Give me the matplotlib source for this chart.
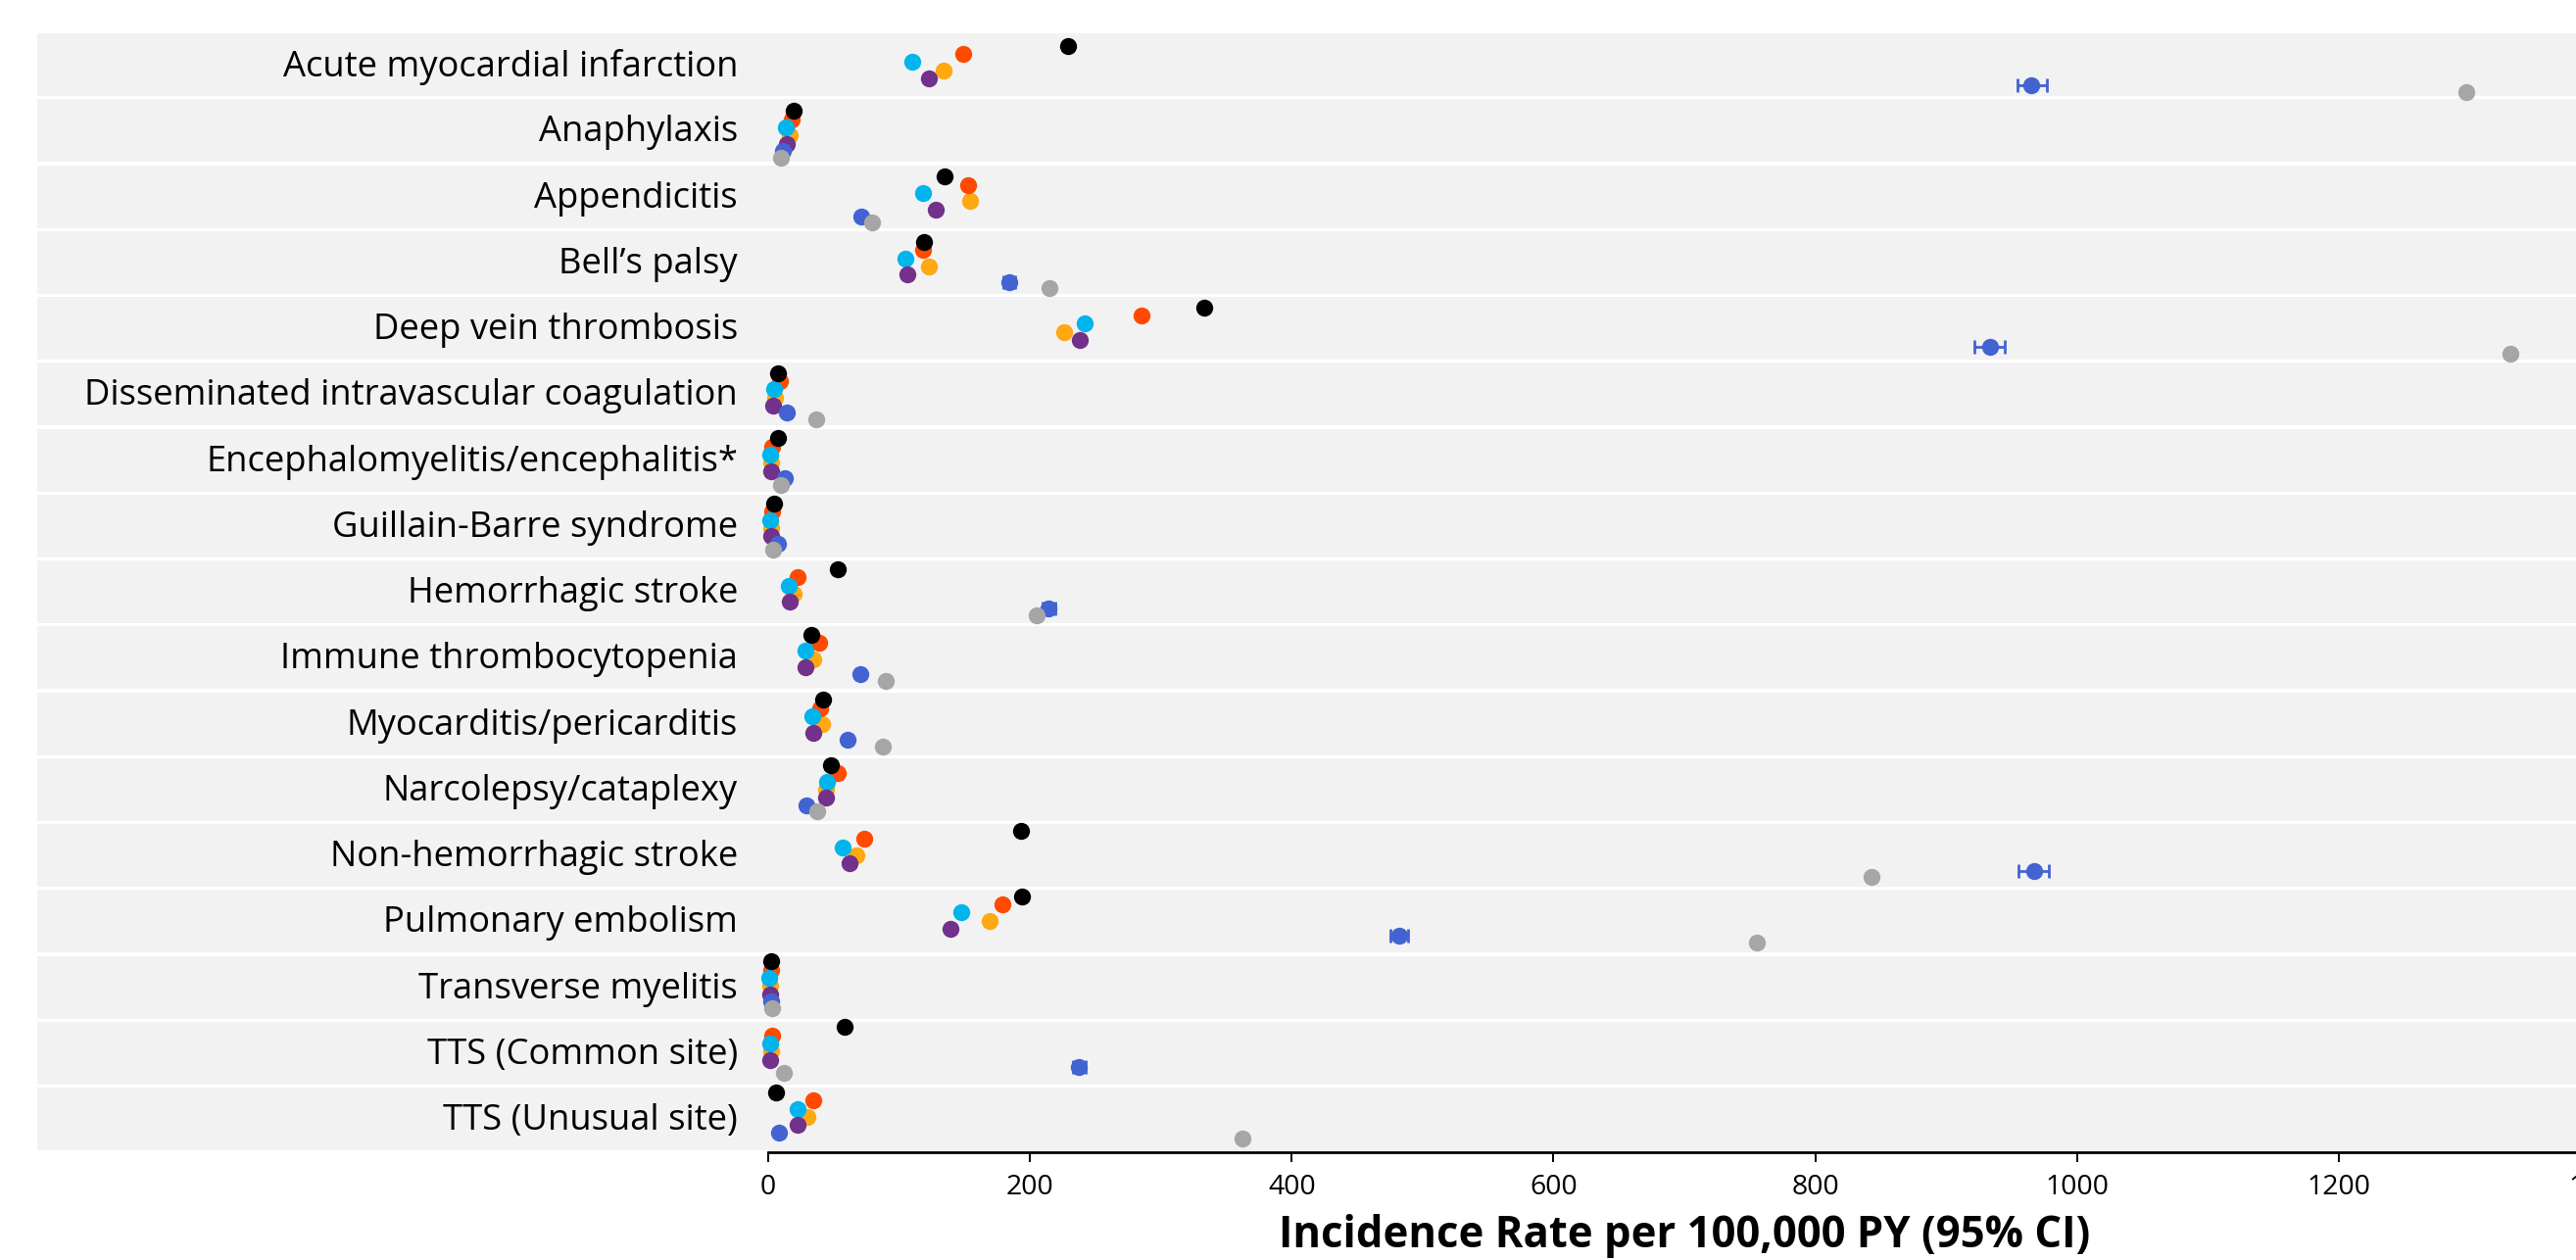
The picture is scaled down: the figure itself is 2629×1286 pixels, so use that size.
import matplotlib
matplotlib.use('Agg')
import matplotlib.pyplot as plt
import numpy as np

plt.rcParams['font.family'] = ['Open Sans', 'DejaVu Sans']

# Categories, top to bottom
categories = [
    'Acute myocardial infarction', 'Anaphylaxis', 'Appendicitis', 'Bell\u2019s palsy',
    'Deep vein thrombosis', 'Disseminated intravascular coagulation',
    'Encephalomyelitis/encephalitis*', 'Guillain-Barre syndrome', 'Hemorrhagic stroke',
    'Immune thrombocytopenia', 'Myocarditis/pericarditis', 'Narcolepsy/cataplexy',
    'Non-hemorrhagic stroke', 'Pulmonary embolism', 'Transverse myelitis',
    'TTS (Common site)', 'TTS (Unusual site)',
]

# Incidence rate per 100,000 PY, one list per data source
rate_black = [229, 19.7, 135, 119.3, 333.2, 7.5, 7.2, 4.2, 53.1, 33.2, 41.9, 47.9, 193, 194, 2.5, 58.1, 6]
rate_red = [149, 18.2, 152.4, 118, 285.4, 9, 3.3, 2.7, 22.5, 38.9, 39.7, 53.4, 73.4, 179.1, 2, 3.2, 34.7]
rate_cyan = [110, 13.7, 118.5, 105, 241.9, 4.5, 1.7, 1.7, 15.5, 28.7, 34, 45.1, 56.9, 147.7, 0.8, 1.5, 22.2]
rate_orange = [133.8, 16.5, 154.5, 123, 226.4, 5.2, 2.5, 2.5, 19.2, 34.4, 41.2, 44.5, 67.1, 169.2, 1.2, 2.5, 29.7]
rate_purple = [122.5, 14.5, 127.8, 106.3, 238.2, 4, 2, 2, 16.2, 28.4, 34.2, 43.9, 62.4, 139.5, 1.2, 1.7, 22.5]
rate_blue = [965, 11.5, 71.1, 184.2, 933.3, 14, 12.5, 7.7, 214.3, 70.1, 60.9, 29, 967, 481.9, 2, 237.4, 8.2]
rate_gray = [1297.5, 10, 79.4, 215.2, 1331, 36.5, 9.5, 4, 204.8, 89.8, 87.6, 37.2, 842.8, 755, 3, 12, 362]

# 95% CI for the blue source (only visible for the large ones)
blue_lo = [954.5, 11.5, 71.1, 179.5, 921.7, 14, 12.5, 7.7, 209.5, 70.1, 60.9, 29, 955.5, 475, 2, 232.5, 8.2]
blue_hi = [977, 11.5, 71.1, 189, 944.6, 14, 12.5, 7.7, 219, 70.1, 60.9, 29, 978.5, 489, 2, 242.5, 8.2]

xticks = [0, 200, 400, 600, 800, 1000, 1200, 1400]

# series: values, colour, vertical dodge in px (relative to centre), draw order
series = [
    (rate_orange, '#FFA812', 0.0, 3),
    (rate_red, '#FF4A00', -16.7, 4),
    (rate_cyan, '#00B4EC', -8.3, 5),
    (rate_purple, '#72318A', 8.3, 6),
    (rate_blue, '#4363D2', 15.6, 7),
    (rate_gray, '#A6A6A6', 22.2, 8),
    (rate_black, '#000000', -25.0, 9),
]

W, H = 2629, 1286
fig = plt.figure(figsize=(W / 100, H / 100), dpi=100)

# geometry in pixels
px0 = 784.0          # x pixel of value 0
px_per = 1.3358      # pixels per unit
left_px = 37.8
top_px = 32.5
band_step = 67.25
n = len(categories)
bottom_px = top_px + n * band_step
xmin = -(px0 - left_px) / px_per
xmax = 1401
right_px = px0 + xmax * px_per
rect = [left_px / W, 1 - bottom_px / H, (right_px - left_px) / W, (bottom_px - top_px) / H]

# background bands + labels
ax_bg = fig.add_axes(rect, zorder=0)
ax_bg.set_xlim(xmin, xmax)
ax_bg.set_ylim(n, 0)
ax_bg.axis('off')
gap = 3.3 / band_step
for i, cat in enumerate(categories):
    ax_bg.axhspan(i + gap / 2, i + 1 - gap / 2, color='#F2F2F2', lw=0)
    ax_bg.text(-23.2, i + 0.53, cat, ha='right', va='center', fontsize=26.2, color='black')

# dots
ax = fig.add_axes(rect, zorder=1)
ax.patch.set_alpha(0)
dot_step = 66.77
dot_c0 = 71.7
ax.set_xlim(xmin, xmax)
ax.set_ylim((bottom_px - dot_c0) / dot_step, (top_px - dot_c0) / dot_step)
ypos = np.arange(n)

blue_off = 15.6 / dot_step
ax.errorbar(rate_blue, ypos + blue_off,
            xerr=[np.array(rate_blue) - np.array(blue_lo), np.array(blue_hi) - np.array(rate_blue)],
            fmt='none', ecolor='#4363D2', elinewidth=2.0, capsize=5, capthick=2.0, zorder=2)

for vals, col, off, z in series:
    ax.plot(vals, ypos + off / dot_step, 'o', color=col, markersize=12.5,
            markeredgewidth=0, zorder=z)

for s in ['left', 'top', 'right']:
    ax.spines[s].set_visible(False)
ax.spines['bottom'].set_bounds(0, xmax)
ax.spines['bottom'].set_linewidth(2.0)
ax.set_yticks([])
ax.set_xticks(xticks)
ax.set_xticklabels([str(t) for t in xticks])
ax.tick_params(axis='x', length=7, width=1.4, pad=9, labelsize=20.5)

ax.text(700, -0.0754, 'Incidence Rate per 100,000 PY (95% CI)',
        transform=ax.get_xaxis_transform(), ha='center', va='center',
        fontsize=31.4, fontweight='bold')

fig.savefig('out.png', dpi=100)
